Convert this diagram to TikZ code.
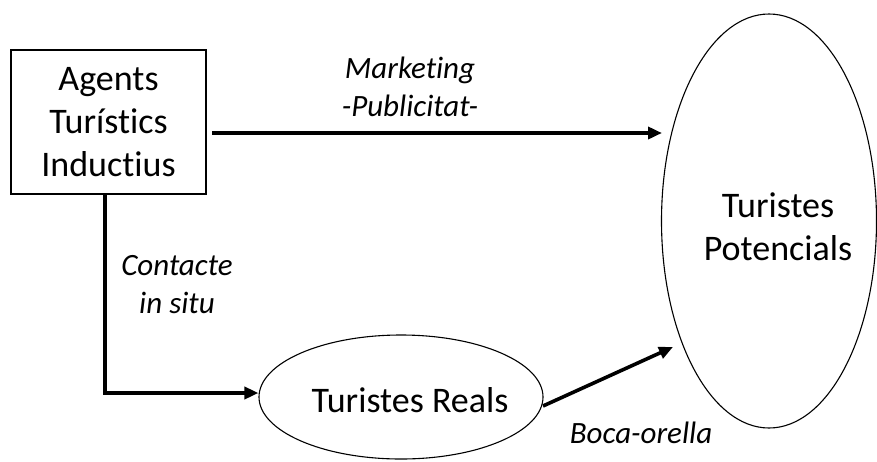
\documentclass[tikz,border=0pt]{standalone}
\usepackage{fontspec}
\setmainfont{Carlito}[Ligatures=NoCommon]
\usetikzlibrary{arrows.meta,shapes.geometric}
\begin{document}
\begin{tikzpicture}[x=1pt,y=-1pt,
  every node/.style={inner sep=0pt, align=center},
  txt/.style={font=\fontsize{36}{43}\selectfont},
  lbl/.style={font=\fontsize{31}{38}\selectfont\itshape},
  flow/.style={line width=3.6pt, -{Triangle[length=14pt,width=12pt]}},
  outline/.style={draw, line width=1.1pt}]
  \useasboundingbox (0,0) rectangle (877,461);
  % shapes
  \node[outline, txt, rectangle, minimum width=195pt, minimum height=144pt]
    (agents) at (108.5,122) {Agents\\Turístics\\Inductius};
  \node[outline, ellipse, minimum width=215pt, minimum height=414pt]
    (potencials) at (769,221) {};
  \node[outline, ellipse, minimum width=284pt, minimum height=124pt]
    (reals) at (401,397) {};
  % texts inside the ellipses
  \node[txt] (tpot) at (778,227) {Turistes\\Potencials};
  \node[txt, anchor=base] (treal) at (410,412) {Turistes Reals};
  % connector end points
  \coordinate (mstart) at (212,133);
  \coordinate (mend) at (662,133);
  \coordinate (corner) at (105,393);
  \coordinate (bstart) at (543,406);
  \coordinate (bend) at (673,347);
  \draw[flow] (mstart) -- (mend);
  \draw[line width=3.6pt] (agents.south -| corner) -- (corner);
  \draw[flow] ([xshift=-1.8pt]corner) -- (reals.west |- corner);
  \draw[flow] (bstart) -- (bend);
  % connector labels
  \node[lbl] (lmark) at (410,87) {Marketing\\-Publicitat-};
  \node[lbl] (lcont) at (177,285) {Contacte\\in situ};
  \node[lbl, anchor=base] (lboca) at (641,443) {Boca-orella};
\end{tikzpicture}
\end{document}
